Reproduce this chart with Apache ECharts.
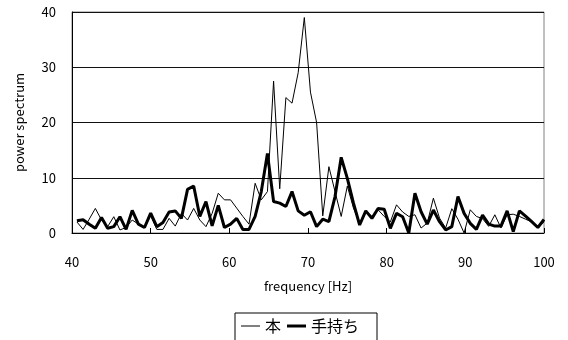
<!DOCTYPE html>
<html>
<head>
<meta charset="utf-8">
<script src="https://cdn.jsdelivr.net/npm/echarts@6/dist/echarts.min.js"></script>
<style>
  html, body { margin: 0; padding: 0; background: #fff; }
  #chart { width: 568px; height: 340px; }
</style>
</head>
<body>
<div id="chart"></div>
<script>
// FFT bins: frequency = bin * binWidth, bins 52..128 (40.6 Hz - 100 Hz)
var firstBin = 52;
var binWidth = 0.78125;

// 本
var honValues = [
  2.0, 0.65, 2.5, 4.45, 2.35, 1.15, 2.95, 0.55, 1.0, 2.35,
  1.6, 1.0, 3.1, 0.65, 0.65, 2.65, 1.25, 3.55, 2.35, 4.45,
  2.35, 1.15, 3.55, 7.2, 6.0, 6.0, 4.5, 3.0, 1.6, 9.0,
  6.0, 7.5, 27.5, 8.0, 24.5, 23.5, 29.0, 39.0, 25.5, 20.0,
  3.1, 12.0, 7.5, 3.0, 8.5, 4.5, 1.8, 4.0, 3.0, 4.2,
  3.0, 2.0, 5.1, 3.8, 3.0, 3.3, 0.9, 1.8, 6.3, 2.7,
  0.9, 4.4, 2.5, 0.0, 4.2, 3.0, 2.6, 1.2, 3.3, 0.9,
  3.3, 3.4, 3.0, 2.5, 2.0, 1.2, 2.0
];

// 手持ち
var handValues = [
  2.2, 2.4, 1.6, 0.85, 2.8, 0.85, 1.15, 2.95, 0.65, 4.1,
  1.6, 1.0, 3.6, 1.15, 1.9, 3.8, 4.0, 2.65, 7.9, 8.5,
  3.0, 5.7, 1.3, 5.0, 1.0, 1.6, 2.65, 0.65, 0.65, 3.0,
  7.5, 14.4, 5.7, 5.4, 4.8, 7.5, 4.0, 3.2, 3.85, 1.15,
  2.5, 2.05, 6.6, 13.7, 9.9, 5.4, 1.45, 4.0, 2.65, 4.45,
  4.3, 0.85, 3.55, 2.95, 0.0, 7.2, 3.85, 1.6, 4.15, 2.05,
  0.55, 1.15, 6.6, 3.55, 1.75, 0.65, 3.25, 1.6, 1.25, 1.25,
  4.0, 0.25, 4.0, 3.05, 2.05, 1.0, 2.45
];

var seriesNames = ["本", "手持ち"];

function toPairs(values) {
  return values.map(function (v, i) {
    return [(firstBin + i) * binWidth, v];
  });
}

var font = "'Noto Sans CJK JP', 'Liberation Sans', sans-serif";
var myChart = echarts.init(document.getElementById("chart"), null, { renderer: "canvas" });

// legend icons: a line across the full icon box (M points keep the box size)
var thinIcon = "path://M0,0M19,10M0,4.5H19V5.5H0Z";
var thickIcon = "path://M0,0M19,10M0,3.5H19V6.5H0Z";

var option = {
  animation: false,
  backgroundColor: "#fff",
  textStyle: { fontFamily: font, color: "#000" },
  grid: {
    left: 72,
    right: 24,
    top: 12,
    bottom: 107,
    show: true,
    borderColor: "#808080",
    borderWidth: 1,
  },
  legend: {
    data: [
      { name: seriesNames[0], icon: thinIcon, itemStyle: { color: "#000" } },
      { name: seriesNames[1], icon: thickIcon, itemStyle: { color: "#000" } },
    ],
    top: 313,
    left: 235,
    itemWidth: 19,
    itemHeight: 10,
    itemGap: 6,
    padding: [5, 18, 12, 6],
    borderColor: "#000",
    borderWidth: 1,
    textStyle: { fontFamily: font, fontSize: 16, color: "#000" },
  },
  xAxis: {
    type: "value",
    min: 40,
    max: 100,
    interval: 10,
    name: "frequency [Hz]",
    nameLocation: "middle",
    nameGap: 47,
    nameTextStyle: { fontFamily: font, fontSize: 13, color: "#000" },
    axisLine: { lineStyle: { color: "#000", width: 1 } },
    axisTick: { show: true, inside: true, length: 5, lineStyle: { color: "#000" } },
    axisLabel: { fontFamily: font, fontSize: 13, color: "#000", margin: 23 },
    splitLine: { show: false },
  },
  yAxis: {
    type: "value",
    min: 0,
    max: 40,
    interval: 10,
    name: "power spectrum",
    nameLocation: "middle",
    nameGap: 46,
    nameRotate: 90,
    nameTextStyle: { fontFamily: font, fontSize: 13, color: "#000" },
    axisLine: { show: true, lineStyle: { color: "#000", width: 1 } },
    axisTick: { show: false },
    axisLabel: { fontFamily: font, fontSize: 13, color: "#000", margin: 16 },
    splitLine: { show: true, lineStyle: { color: "#111", width: 1 } },
  },
  series: [
    {
      name: seriesNames[0],
      type: "line",
      data: toPairs(honValues),
      symbol: "none",
      lineStyle: { color: "#000", width: 1 },
      itemStyle: { color: "#000" },
    },
    {
      name: seriesNames[1],
      type: "line",
      data: toPairs(handValues),
      symbol: "none",
      lineStyle: { color: "#000", width: 3 },
      itemStyle: { color: "#000" },
    },
  ],
};

myChart.setOption(option);
</script>
</body>
</html>
